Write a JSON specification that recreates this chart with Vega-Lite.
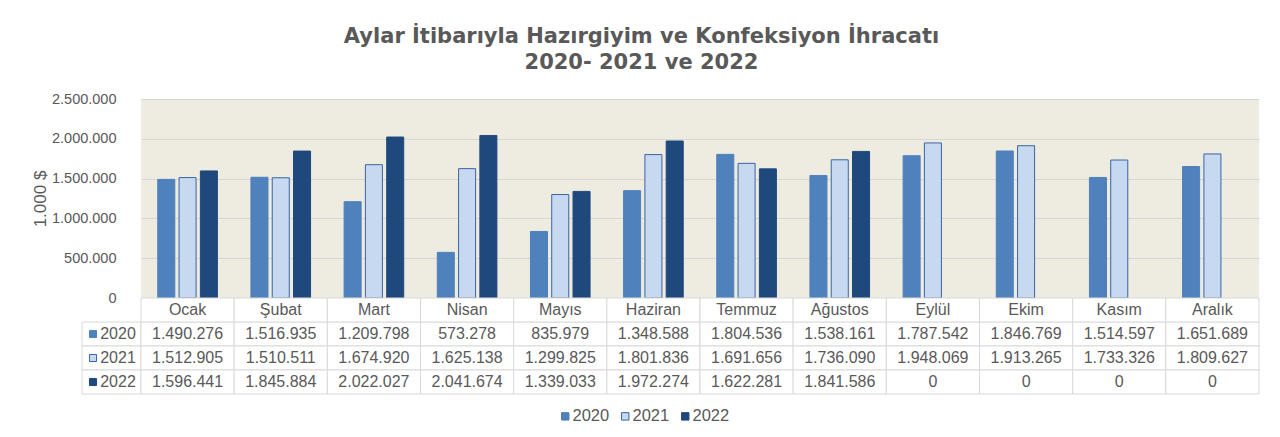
{
  "$schema": "https://vega.github.io/schema/vega-lite/v6.json",
  "background": "white",
  "padding": {"left": 31, "top": 26, "right": 22, "bottom": 10},
  "config": {
    "locale": {"number": {"decimal": ",", "thousands": ".", "grouping": [3], "currency": ["", " $"]}},
    "font": "Liberation Sans",
    "view": {"stroke": null},
    "axis": {"labelColor": "#595959", "titleColor": "#595959", "labelFont": "Liberation Sans", "titleFont": "Liberation Sans"},
    "text": {"font": "Liberation Sans", "fontSize": 16, "fill": "#595959"}
  },
  "title": {
    "text": ["Aylar İtibarıyla Hazırgiyim ve Konfeksiyon İhracatı", "2020- 2021 ve 2022"],
    "font": "DejaVu Sans", "fontSize": 21, "fontWeight": "bold", "color": "#595959",
    "lineHeight": 26, "anchor": "middle", "offset": 18, "dx": -4
  },
  "datasets": {
    "vals": [
      {"month": "Ocak", "year": "2020", "value": 1490276},
      {"month": "Ocak", "year": "2021", "value": 1512905},
      {"month": "Ocak", "year": "2022", "value": 1596441},
      {"month": "Şubat", "year": "2020", "value": 1516935},
      {"month": "Şubat", "year": "2021", "value": 1510511},
      {"month": "Şubat", "year": "2022", "value": 1845884},
      {"month": "Mart", "year": "2020", "value": 1209798},
      {"month": "Mart", "year": "2021", "value": 1674920},
      {"month": "Mart", "year": "2022", "value": 2022027},
      {"month": "Nisan", "year": "2020", "value": 573278},
      {"month": "Nisan", "year": "2021", "value": 1625138},
      {"month": "Nisan", "year": "2022", "value": 2041674},
      {"month": "Mayıs", "year": "2020", "value": 835979},
      {"month": "Mayıs", "year": "2021", "value": 1299825},
      {"month": "Mayıs", "year": "2022", "value": 1339033},
      {"month": "Haziran", "year": "2020", "value": 1348588},
      {"month": "Haziran", "year": "2021", "value": 1801836},
      {"month": "Haziran", "year": "2022", "value": 1972274},
      {"month": "Temmuz", "year": "2020", "value": 1804536},
      {"month": "Temmuz", "year": "2021", "value": 1691656},
      {"month": "Temmuz", "year": "2022", "value": 1622281},
      {"month": "Ağustos", "year": "2020", "value": 1538161},
      {"month": "Ağustos", "year": "2021", "value": 1736090},
      {"month": "Ağustos", "year": "2022", "value": 1841586},
      {"month": "Eylül", "year": "2020", "value": 1787542},
      {"month": "Eylül", "year": "2021", "value": 1948069},
      {"month": "Eylül", "year": "2022", "value": 0},
      {"month": "Ekim", "year": "2020", "value": 1846769},
      {"month": "Ekim", "year": "2021", "value": 1913265},
      {"month": "Ekim", "year": "2022", "value": 0},
      {"month": "Kasım", "year": "2020", "value": 1514597},
      {"month": "Kasım", "year": "2021", "value": 1733326},
      {"month": "Kasım", "year": "2022", "value": 0},
      {"month": "Aralık", "year": "2020", "value": 1651689},
      {"month": "Aralık", "year": "2021", "value": 1809627},
      {"month": "Aralık", "year": "2022", "value": 0}
    ],
    "months": [
      {"month": "Ocak"}, {"month": "Şubat"}, {"month": "Mart"}, {"month": "Nisan"},
      {"month": "Mayıs"}, {"month": "Haziran"}, {"month": "Temmuz"}, {"month": "Ağustos"},
      {"month": "Eylül"}, {"month": "Ekim"}, {"month": "Kasım"}, {"month": "Aralık"}
    ],
    "years": [{"year": "2020"}, {"year": "2021"}, {"year": "2022"}]
  },
  "bounds": "flush",
  "spacing": 0,
  "columns": 2,
  "resolve": {
    "scale": {"x": "independent", "y": "independent", "color": "independent", "stroke": "independent"},
    "legend": {"color": "independent", "stroke": "independent"}
  },
  "concat": [
    {
      "width": 59, "height": 199,
      "data": {"values": [{"k": 1}]},
      "mark": {"type": "text"},
      "encoding": {"text": {"value": ""}}
    },
    {
      "width": 1118, "height": 199,
      "view": {"fill": "#EEECE1", "stroke": null},
      "data": {"name": "vals"},
      "transform": [{"filter": "datum.value > 0"}],
      "mark": {"type": "bar", "strokeWidth": 1},
      "encoding": {
        "x": {"field": "month", "type": "nominal",
              "sort": ["Ocak", "Şubat", "Mart", "Nisan", "Mayıs", "Haziran", "Temmuz", "Ağustos", "Eylül", "Ekim", "Kasım", "Aralık"],
              "scale": {"paddingInner": 0.36, "paddingOuter": 0.18}, "axis": null},
        "xOffset": {"field": "year", "type": "nominal", "scale": {"paddingInner": 0.2}},
        "y": {"field": "value", "type": "quantitative",
              "scale": {"domain": [0, 2500000], "nice": false},
              "axis": {"title": "1.000 $", "titleFontSize": 17, "titleFontWeight": "normal", "titlePadding": 2,
                       "values": [0, 500000, 1000000, 1500000, 2000000, 2500000], "format": ",d",
                       "labelFontSize": 14.5, "labelPadding": 25, "ticks": false, "domain": false,
                       "grid": true, "gridColor": "#D6D6D6", "gridWidth": 1}},
        "color": {"field": "year", "type": "nominal",
                  "scale": {"domain": ["2020", "2021", "2022"], "range": ["#4F81BD", "#C6D9F1", "#1F497D"]},
                  "legend": {"orient": "none", "legendX": 416, "legendY": 309, "direction": "horizontal",
                             "title": null, "symbolType": "square", "symbolSize": 55, "labelFontSize": 16.5,
                             "labelColor": "#595959", "columnPadding": 7, "labelOffset": -1, "symbolStrokeWidth": 1}},
        "stroke": {"field": "year", "type": "nominal",
                   "scale": {"domain": ["2020", "2021", "2022"], "range": ["#4F81BD", "#3A64A0", "#1F497D"]},
                   "legend": {"orient": "none", "legendX": 416, "legendY": 309, "direction": "horizontal",
                             "title": null, "symbolType": "square", "symbolSize": 55, "labelFontSize": 16.5,
                             "labelColor": "#595959", "columnPadding": 7, "labelOffset": -1, "symbolStrokeWidth": 1}}
      }
    },
    {
      "width": 59, "height": 96,
      "data": {"name": "years"},
      "encoding": {
        "y": {"field": "year", "type": "nominal",
              "scale": {"domain": ["hdr", "2020", "2021", "2022"], "paddingInner": 0, "paddingOuter": 0},
              "axis": null}
      },
      "layer": [
        {"mark": {"type": "rect", "fill": "white", "stroke": "#D9D9D9", "strokeWidth": 1}},
        {"mark": {"type": "square", "size": 50, "filled": true, "strokeWidth": 1, "opacity": 1},
         "encoding": {
           "x": {"datum": "sq", "type": "nominal",
                 "scale": {"type": "band", "domain": ["sq", "lbl"], "paddingInner": 0, "paddingOuter": 0.34, "align": 0}, "axis": null},
           "color": {"field": "year", "type": "nominal",
                     "scale": {"domain": ["2020", "2021", "2022"], "range": ["#4F81BD", "#C6D9F1", "#1F497D"]}, "legend": null},
           "stroke": {"field": "year", "type": "nominal",
                      "scale": {"domain": ["2020", "2021", "2022"], "range": ["#4F81BD", "#3A64A0", "#1F497D"]}, "legend": null}
         }},
        {"mark": {"type": "text", "dx": 3, "fontSize": 16, "fill": "#595959"},
         "encoding": {
           "x": {"datum": "lbl", "type": "nominal"},
           "text": {"field": "year"}}}
      ]
    },
    {
      "width": 1118, "height": 96,
      "layer": [
        {
          "data": {"name": "vals"},
          "mark": {"type": "rect", "fill": "white", "stroke": "#D9D9D9", "strokeWidth": 1},
          "encoding": {
            "x": {"field": "month", "type": "nominal",
                  "sort": ["Ocak", "Şubat", "Mart", "Nisan", "Mayıs", "Haziran", "Temmuz", "Ağustos", "Eylül", "Ekim", "Kasım", "Aralık"],
                  "scale": {"paddingInner": 0, "paddingOuter": 0}, "axis": null},
            "y": {"field": "year", "type": "nominal",
                  "scale": {"domain": ["hdr", "2020", "2021", "2022"], "paddingInner": 0, "paddingOuter": 0},
                  "axis": null}
          }
        },
        {
          "data": {"name": "vals"},
          "mark": {"type": "text", "fontSize": 16, "fill": "#595959"},
          "encoding": {
            "x": {"field": "month", "type": "nominal",
                  "sort": ["Ocak", "Şubat", "Mart", "Nisan", "Mayıs", "Haziran", "Temmuz", "Ağustos", "Eylül", "Ekim", "Kasım", "Aralık"]},
            "y": {"field": "year", "type": "nominal"},
            "text": {"field": "value", "type": "quantitative", "format": ",d"}
          }
        },
        {
          "data": {"name": "months"},
          "mark": {"type": "rect", "fill": "white", "stroke": "#D9D9D9", "strokeWidth": 1},
          "encoding": {
            "x": {"field": "month", "type": "nominal",
                  "sort": ["Ocak", "Şubat", "Mart", "Nisan", "Mayıs", "Haziran", "Temmuz", "Ağustos", "Eylül", "Ekim", "Kasım", "Aralık"]},
            "y": {"datum": "hdr", "type": "nominal"}
          }
        },
        {
          "data": {"name": "months"},
          "mark": {"type": "text", "fontSize": 16, "fill": "#595959"},
          "encoding": {
            "x": {"field": "month", "type": "nominal",
                  "sort": ["Ocak", "Şubat", "Mart", "Nisan", "Mayıs", "Haziran", "Temmuz", "Ağustos", "Eylül", "Ekim", "Kasım", "Aralık"]},
            "y": {"datum": "hdr", "type": "nominal"},
            "text": {"field": "month"}
          }
        }
      ]
    }
  ]
}
